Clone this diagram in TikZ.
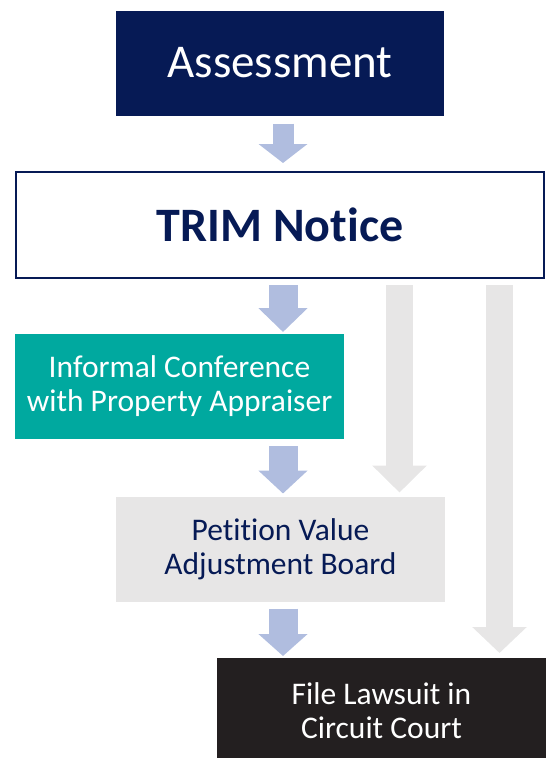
\documentclass[tikz,border=0pt]{standalone}
\usepackage{fontspec}
\setmainfont{Carlito}[RawFeature={-liga;-clig;-rlig;-dlig;-calt}]
\usetikzlibrary{arrows.meta}
\definecolor{navy}{HTML}{061A55}
\definecolor{trimteal}{HTML}{00A99F}
\definecolor{boxgray}{HTML}{E7E6E6}
\definecolor{courtblack}{HTML}{231F20}
\definecolor{arrowblue}{HTML}{B0BDDF}
\tikzstyle{stage}=[inner sep=0, outer sep=0, minimum width=329pt, minimum height=105pt,
                   align=center, font=\fontsize{31.5}{34}\selectfont]
\tikzstyle{flowarrow}=[draw=arrowblue, line width=29pt, -{Triangle[length=23pt, width=48pt]},
                       shorten <=7pt, shorten >=2pt]
\tikzstyle{skiparrow}=[draw=boxgray, line width=27pt, -{Triangle[length=27pt, width=53pt]},
                       shorten <=7pt]

\begin{document}
\begin{tikzpicture}
        \useasboundingbox (0,0) rectangle (548pt,-758pt);
        \node[stage, fill=navy, text=white, minimum width=328pt, font=\fontsize{47}{50}\selectfont] (assess) at (280pt,-63pt) {Assessment};
        \node[stage, draw=navy, line width=2pt, fill=white, minimum width=528pt, minimum height=106pt,
              font=\bfseries\fontsize{48}{50}\selectfont, text=navy] (trim) at (280pt,-225pt) {TRIM Notice};
        \node[stage, fill=trimteal, text=white] (inform) at (179.5pt,-386.5pt) {Informal Conference\\with Property Appraiser};
        \node[stage, fill=boxgray, text=navy] (petition) at (280.5pt,-549pt) {Petition Value\\Adjustment Board};
        \node[stage, fill=courtblack, text=white, minimum height=100pt] (lawsuit) at (381.5pt,-708pt) {};
        % text sits a little below the middle of the cut-off box
        \node[align=center, text=white, font=\fontsize{31.5}{34}\selectfont] (lawsuittext) at ([yshift=-3pt]lawsuit.center) {File Lawsuit in\\Circuit Court};
        \coordinate (main) at (283pt,0);
        \coordinate (skipA) at (399.5pt,0);
        \coordinate (skipB) at (499.5pt,0);
        \draw[flowarrow, line width=21pt, -{Triangle[length=19pt, width=48pt]}, shorten <=8pt, shorten >=9pt] (assess.south -| main) -- (trim.north -| main);
        \draw[flowarrow, -{Triangle[length=24pt, width=48pt]}] (trim.south -| main) -- (inform.north -| main);
        \draw[flowarrow, shorten >=3pt] (inform.south -| main) -- (petition.north -| main);
        \draw[flowarrow, -{Triangle[length=22pt, width=48pt]}] (petition.south -| main) -- (lawsuit.north -| main);
        \draw[skiparrow, shorten >=4pt] (trim.south -| skipA) -- (petition.north -| skipA);
        \draw[skiparrow, -{Triangle[length=26pt, width=53pt]}, shorten >=5pt] (trim.south -| skipB) -- (lawsuit.north -| skipB);
    \end{tikzpicture}
\end{document}
